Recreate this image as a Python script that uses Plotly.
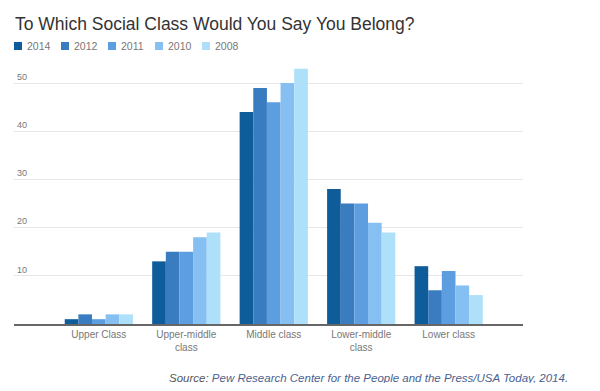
import plotly.graph_objects as go

categories = ["Upper Class", "Upper-middle<br>class", "Middle class", "Lower-middle<br>class", "Lower class"]
years = ["2014", "2012", "2011", "2010", "2008"]
v2014 = [1, 13, 44, 28, 12]
v2012 = [2, 15, 49, 25, 7]
v2011 = [1, 15, 46, 25, 11]
v2010 = [2, 18, 50, 21, 8]
v2008 = [2, 19, 53, 19, 6]
series = [v2014, v2012, v2011, v2010, v2008]
colors = ["#0f5c9b", "#3a7cc0", "#5d9ee0", "#86bff2", "#afe0fa"]
y_ticks = [10, 20, 30, 40, 50]

# figure / plot-area geometry (pixels); the page body adds an 8px margin
W, H = 584, 375
ML, MR, MT, MB = 6, 69, 51, 59
PW, PH = W - ML - MR, H - MT - MB


def px_to_paper_x(px):
    return (px - ML) / PW


def px_to_paper_y(py):
    return (H - MB - py) / PH


fig = go.Figure()
for name, vals, col in zip(years, series, colors):
    fig.add_trace(go.Bar(name=name, x=list(range(len(categories))), y=vals,
                         marker=dict(color=col, line=dict(width=0))))

# compact legend (squares + labels), laid out like the original
shapes, annotations = [], []
LEG_X0, LEG_STEP, LEG_Y, SQ = 6, 47, 38, 8
for i, (name, col) in enumerate(zip(years, colors)):
    x0 = LEG_X0 + LEG_STEP * i
    shapes.append(dict(type="rect", xref="paper", yref="paper",
                       x0=px_to_paper_x(x0), x1=px_to_paper_x(x0 + SQ),
                       y0=px_to_paper_y(LEG_Y + SQ / 2), y1=px_to_paper_y(LEG_Y - SQ / 2),
                       fillcolor=col, line=dict(width=0)))
    annotations.append(dict(text=name, xref="paper", yref="paper",
                            x=px_to_paper_x(x0 + SQ + 3), y=px_to_paper_y(LEG_Y),
                            xanchor="left", yanchor="middle", showarrow=False,
                            font=dict(size=10.5, color="#777777")))

annotations.append(dict(
    text="<i>Source: <span style='color:#4a6290'>Pew Research Center for the People and the Press/USA Today, 2014.</span></i>",
    xref="paper", yref="paper", x=px_to_paper_x(562), y=px_to_paper_y(370),
    xanchor="right", yanchor="middle", showarrow=False,
    font=dict(size=11.5, color="#555555")))

fig.update_layout(
    width=W, height=H,
    paper_bgcolor="white", plot_bgcolor="white",
    margin=dict(l=ML, r=MR, t=MT, b=MB, autoexpand=False),
    barmode="group", bargap=0.22, bargroupgap=0,
    font=dict(family="Liberation Sans, Arial, sans-serif", color="#666666"),
    title=dict(text="To Which Social Class Would You Say You Belong?",
               x=7 / W, xref="container", xanchor="left", y=1 - 16 / H, yref="container",
               yanchor="middle", font=dict(size=17.5, color="#333333")),
    showlegend=False,
    xaxis=dict(tickmode="array", tickvals=list(range(len(categories))), ticktext=categories,
               range=[-0.97, 4.85], showgrid=False, showline=True, linecolor="#666666",
               linewidth=1.5, ticks="", tickfont=dict(size=10, color="#777777"), zeroline=False),
    yaxis=dict(range=[0, 55], tickmode="array", tickvals=y_ticks,
               ticklabelposition="inside top", showgrid=True, gridcolor="#e6e6e6",
               gridwidth=1, zeroline=False, showline=False, ticks="",
               tickfont=dict(size=9, color="#777777")),
    shapes=shapes,
    annotations=annotations,
)

fig.write_html("out.html")
